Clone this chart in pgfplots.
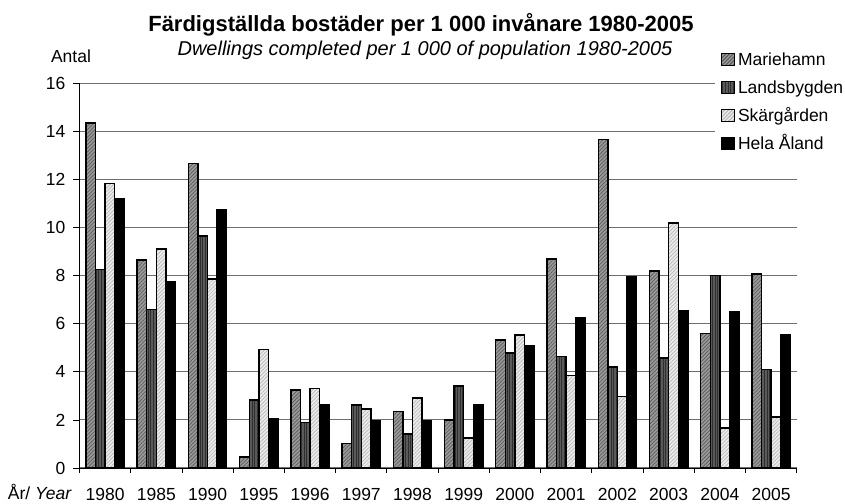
\documentclass[border=0pt]{standalone}
\usepackage{fontspec}
\setmainfont{Liberation Sans}
\usepackage{pgfplots}
\pgfplotsset{compat=1.18}
\usetikzlibrary{patterns.meta}
\definecolor{cM}{HTML}{9A9A9A}
\definecolor{pM}{HTML}{5A5A5A}
\definecolor{cL}{HTML}{5A5A5A}
\definecolor{pL}{HTML}{2E2E2E}
\definecolor{cS}{HTML}{ECECEC}
\definecolor{pS}{HTML}{B8B8B8}
\definecolor{cH}{HTML}{000000}
\definecolor{gridc}{HTML}{6E6E6E}
\newcommand{\tickfont}{\fontsize{17.5bp}{21bp}\selectfont}
\pgfplotsset{
  mybar/.style n args={4}{ybar, bar width=9.6bp, bar shift=#2, draw=black, line width=1.4bp, fill=#1,
    postaction={pattern={Lines[angle=#4, distance=2.6bp, line width=0.7bp]}, pattern color=#3},
    legend image code/.code={\draw[fill=#1, draw=black, line width=0.8bp,
       postaction={pattern={Lines[angle=#4, distance=2.6bp, line width=0.7bp]}, pattern color=#3}]
       (0bp,-4.5bp) rectangle (13bp,8bp);}},
}
\begin{document}
\begin{tikzpicture}
\useasboundingbox (-79.5bp,-36bp) rectangle (765.5bp,468bp);
\begin{axis}[
  at={(0,0)}, anchor=south west,
  scale only axis, width=717.2bp, height=384.5bp,
  xmin=-0.5, xmax=13.5, ymin=0, ymax=16,
  axis x line*=bottom, axis y line*=left,
  axis line style={-, black, line width=0.9bp},
  xtick={0,...,13},
  xticklabels={1980,1985,1990,1995,1996,1997,1998,1999,2000,2001,2002,2003,2004,2005},
  x tick style={draw=none},
  extra x ticks={-0.5,0.5,1.5,2.5,3.5,4.5,5.5,6.5,7.5,8.5,9.5,10.5,11.5,12.5,13.5},
  extra x tick labels={},
  extra x tick style={grid=none, tick align=outside, major tick length=5bp,
     x tick style={draw=black, line width=0.8bp}},
  ytick={0,2,...,16},
  y tick style={black, line width=0.8bp},
  tick align=outside, major tick length=6bp,
  ymajorgrids, grid style={gridc, line width=1.1bp},
  /pgf/number format/assume math mode=true,
  ticklabel style={font=\tickfont},
  xticklabel style={anchor=base, inner sep=0pt, yshift=-26bp},
  yticklabel style={anchor=east, inner sep=0pt, xshift=-8bp},
  legend style={at={(0.8861,1.1079)}, anchor=north west, draw=none, fill=white,
     font=\tickfont, inner xsep=6bp, inner ysep=10.5bp,
     nodes={inner sep=0pt, text height=13bp, text depth=4bp},
     column sep=3bp, row sep=11bp},
  legend cell align=left,
]
\addplot[mybar={cM}{-14.4bp}{pM}{45}] coordinates {(0,14.36) (1,8.65) (2,12.68) (3,0.46) (4,3.25) (5,1.03) (6,2.35) (7,2.0) (8,5.33) (9,8.69) (10,13.66) (11,8.19) (12,5.6) (13,8.08)};
\addplot[mybar={cL}{-4.8bp}{pL}{90}] coordinates {(0,8.26) (1,6.6) (2,9.66) (3,2.83) (4,1.9) (5,2.62) (6,1.41) (7,3.41) (8,4.79) (9,4.65) (10,4.2) (11,4.57) (12,8.02) (13,4.09)};
\addplot[mybar={cS}{4.8bp}{pS}{45}] coordinates {(0,11.84) (1,9.12) (2,7.87) (3,4.93) (4,3.3) (5,2.45) (6,2.91) (7,1.25) (8,5.54) (9,3.84) (10,2.97) (11,10.19) (12,1.66) (13,2.13)};
\addplot[mybar={cH}{14.4bp}{cH}{0}] coordinates {(0,11.22) (1,7.74) (2,10.75) (3,2.06) (4,2.62) (5,1.98) (6,1.98) (7,2.65) (8,5.11) (9,6.24) (10,7.94) (11,6.53) (12,6.49) (13,5.54)};
\legend{Mariehamn,Landsbygden,Skärgården,Hela Åland}
\end{axis}
\node[anchor=base, inner sep=0pt, font=\fontsize{22bp}{26bp}\selectfont\bfseries] at (341.5bp,436bp) {Färdigställda bostäder per 1 000 invånare 1980-2005};
\node[anchor=base, inner sep=0pt, font=\fontsize{20bp}{24bp}\selectfont\itshape] at (345.5bp,412bp) {Dwellings completed per 1 000 of population 1980-2005};
\node[anchor=base, inner sep=0pt, font=\tickfont] at (-8.5bp,405bp) {Antal};
\node[anchor=base east, inner sep=0pt, font=\tickfont] at (-7.5bp,-31bp) {År/ \textit{Year}};
\end{tikzpicture}
\end{document}
